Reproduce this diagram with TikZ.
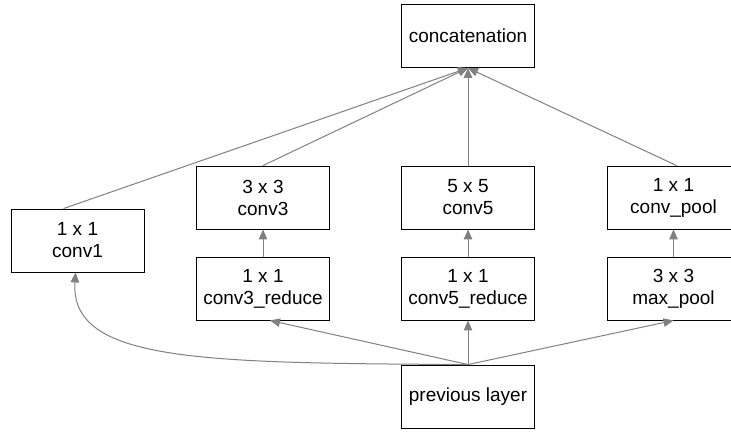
\documentclass[tikz,border=0pt]{standalone}
\usepackage{fontspec}
\setmainfont{Liberation Sans}
\usetikzlibrary{arrows.meta}
\definecolor{edgegray}{RGB}{128,128,128}
\tikzset{
  layer/.style={draw=black, line width=0.9pt, fill=white, minimum width=133pt,
    minimum height=63pt, align=center, inner sep=0pt,
    font=\fontsize{19}{22}\selectfont},
  flow/.style={draw=edgegray, line width=1pt,
    -{Triangle[length=10pt,width=8.5pt]}}
}
\begin{document}
\begin{tikzpicture}[x=1pt, y=-1pt]
\useasboundingbox (0,0) rectangle (731,432);
\clip (0,0) rectangle (731,432);

% layer boxes
\node[layer] (concat) at (468,36) {concatenation};
\node[layer] (conv1)  at (77.5,240.5) {1 x 1\\conv1};
\node[layer] (conv3)  at (263,197.5) {3 x 3\\conv3};
\node[layer] (conv3r) at (263,288.5) {1 x 1\\conv3\_reduce};
\node[layer] (conv5)  at (468,197.5) {5 x 5\\conv5};
\node[layer] (conv5r) at (468,288.5) {1 x 1\\conv5\_reduce};
\node[layer] (cpool)  at (673.5,197.5) {1 x 1\\conv\_pool};
\node[layer] (mpool)  at (673.5,288.5) {3 x 3\\max\_pool};
\node[layer] (prev)   at (468,396.5) {previous layer};

% branches into the concatenation
\draw[flow] ([xshift=-14pt]conv1.north) -- (concat.south);
\draw[flow] (conv3.north) -- (concat.south);
\draw[flow] (conv5.north) -- (concat.south);
\draw[flow] ([xshift=3pt]cpool.north) -- (concat.south);

% reductions feeding the wide convolutions
\draw[flow] (conv3r.north) -- (conv3.south);
\draw[flow] (conv5r.north) -- (conv5.south);
\draw[flow] (mpool.north) -- (cpool.south);

% previous layer fans out to every branch
\draw[flow] (prev.north) .. controls (200,363) and (70,362) .. ([xshift=-2pt]conv1.south);
\draw[flow] (prev.north) -- ([xshift=7pt]conv3r.south);
\draw[flow] (prev.north) -- (conv5r.south);
\draw[flow] (prev.north) -- (mpool.south);
\end{tikzpicture}
\end{document}
